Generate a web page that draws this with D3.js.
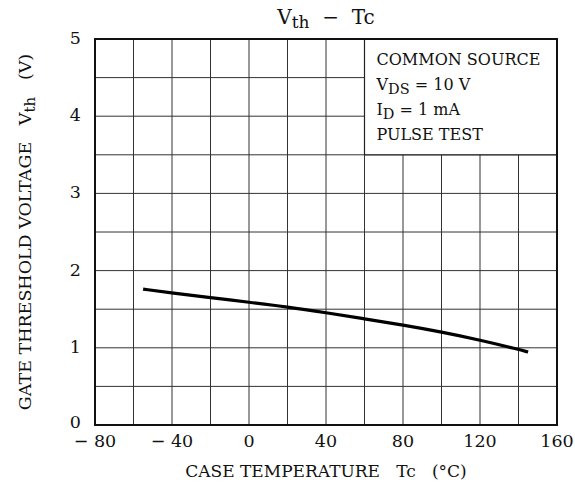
<!DOCTYPE html>
<html>
<head>
<meta charset="utf-8">
<script src="https://cdn.jsdelivr.net/npm/d3@7"></script>
<style>
  body { margin: 0; background: #fff; }
  svg text { font-family: "DejaVu Serif", "Liberation Serif", serif; fill: #111; }
</style>
</head>
<body>
<svg id="chart" width="575" height="491"></svg>
<script>
// case temperature (deg C) and gate threshold voltage (V)
let tempValues = [-55, -40, -20, 0, 20, 40, 60, 80, 100, 120, 140, 145];
let vthValues = [1.76, 1.71, 1.65, 1.59, 1.53, 1.455, 1.375, 1.295, 1.205, 1.10, 0.98, 0.945];

let xTicks = [-80, -40, 0, 40, 80, 120, 160];
let yTicks = [0, 1, 2, 3, 4, 5];
let noteLines = ['COMMON SOURCE', 'V|DS| = 10 V', 'I|D| = 1 mA', 'PULSE TEST'];

let margin = { left: 95, right: 18, top: 39, bottom: 66 },
    width = 575 - margin.left - margin.right,
    height = 491 - margin.top - margin.bottom;

let svg = d3.select('#chart');
let g = svg.append('g').attr('transform', 'translate(' + margin.left + ',' + margin.top + ')');

let x = d3.scaleLinear().domain([-80, 160]).range([0, width]);
let y = d3.scaleLinear().domain([0, 5]).range([height, 0]);

// grid
g.append('g')
  .selectAll('line')
  .data(d3.range(-60, 160, 20))
  .join('line')
  .attr('x1', d => x(d)).attr('x2', d => x(d))
  .attr('y1', 0).attr('y2', height)
  .attr('stroke', '#333').attr('stroke-width', 1);

g.append('g')
  .selectAll('line')
  .data(d3.range(0.5, 5, 0.5))
  .join('line')
  .attr('x1', 0).attr('x2', width)
  .attr('y1', d => y(d)).attr('y2', d => y(d))
  .attr('stroke', '#333').attr('stroke-width', 1);

// note box covers the grid in the top right corner
g.append('rect')
  .attr('x', x(60)).attr('y', y(5))
  .attr('width', x(160) - x(60)).attr('height', y(3.5) - y(5))
  .attr('fill', '#fff').attr('stroke', '#222').attr('stroke-width', 1.2);

let note = g.append('g');
noteLines.forEach(function (line, i) {
  let parts = line.split('|');
  let t = note.append('text')
    .attr('x', x(60) + 12)
    .attr('y', 26 + i * 25)
    .attr('font-size', 16);
  t.append('tspan').text(parts[0]);
  if (parts.length > 1) {
    t.append('tspan').attr('dy', 4).attr('font-size', 14.5).text(parts[1]);
    t.append('tspan').attr('dy', -4).text(parts[2]);
  }
});

// frame
g.append('rect')
  .attr('width', width).attr('height', height)
  .attr('fill', 'none').attr('stroke', '#111').attr('stroke-width', 2);

// curve
let line = d3.line()
  .x((d, i) => x(tempValues[i]))
  .y(d => y(d))
  .curve(d3.curveBasis);

g.append('path')
  .datum(vthValues)
  .attr('d', line)
  .attr('fill', 'none')
  .attr('stroke', '#000')
  .attr('stroke-width', 3.2);

// tick labels
g.selectAll('.xlab')
  .data(xTicks)
  .join('text')
  .attr('class', 'xlab')
  .attr('x', d => x(d))
  .attr('y', height + 22)
  .attr('text-anchor', 'middle')
  .attr('font-size', 17.5)
  .text(d => d < 0 ? '\u2212 ' + Math.abs(d) : d);

g.selectAll('.ylab')
  .data(yTicks)
  .join('text')
  .attr('class', 'ylab')
  .attr('x', -14)
  .attr('y', d => y(d) + (d === 0 ? 3 : 5))
  .attr('text-anchor', 'end')
  .attr('font-size', 17.5)
  .text(d => d);

// title
let title = svg.append('text')
  .attr('x', margin.left + width / 2)
  .attr('y', 24)
  .attr('text-anchor', 'middle')
  .attr('font-size', 20)
  .attr('xml:space', 'preserve');
title.append('tspan').text('V');
title.append('tspan').attr('dy', 4).attr('font-size', 17).text('th');
title.append('tspan').attr('dy', -4).text('  \u2212  Tc');

// axis titles
svg.append('text')
  .attr('x', margin.left + width / 2)
  .attr('y', 477)
  .attr('text-anchor', 'middle')
  .attr('font-size', 17)
  .attr('xml:space', 'preserve')
  .text('CASE TEMPERATURE   Tc   (\u00b0C)');

let ylab = svg.append('text')
  .attr('transform', 'translate(31,' + (margin.top + height / 2) + ') rotate(-90)')
  .attr('text-anchor', 'middle')
  .attr('font-size', 17.5)
  .attr('xml:space', 'preserve');
ylab.append('tspan').text('GATE THRESHOLD VOLTAGE   V');
ylab.append('tspan').attr('dy', 4).attr('font-size', 15).text('th');
ylab.append('tspan').attr('dy', -4).text('   (V)');
</script>
</body>
</html>
